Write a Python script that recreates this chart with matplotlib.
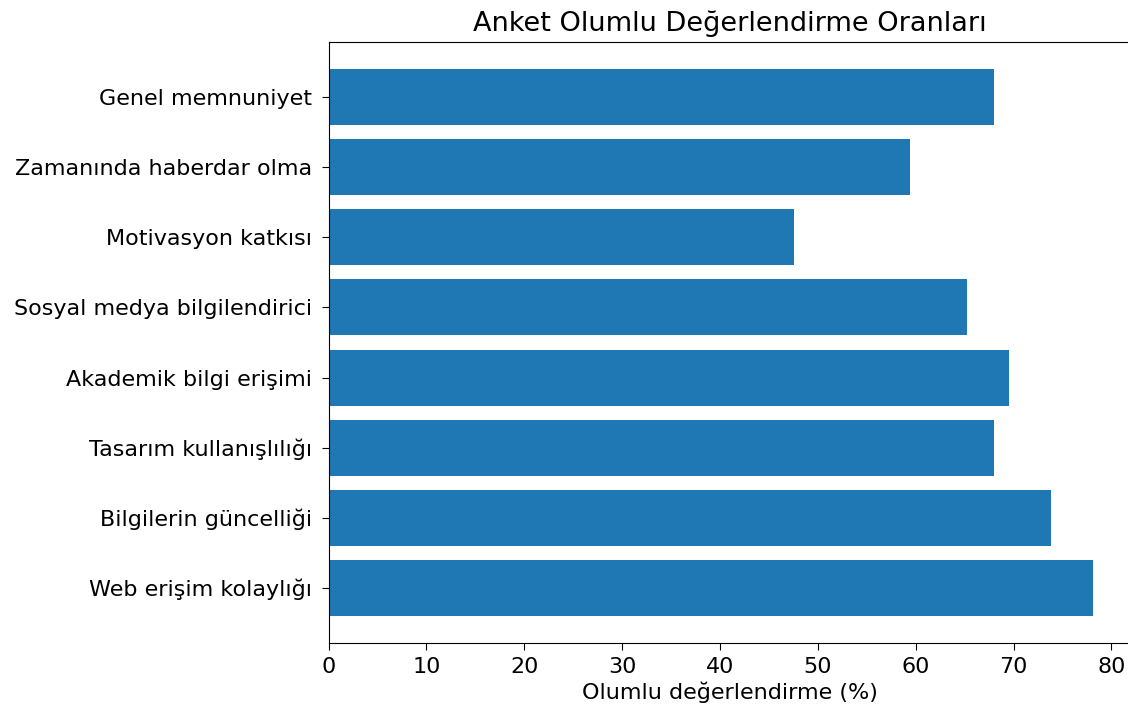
import matplotlib.pyplot as plt

categories = ["Web erişim kolaylığı", "Bilgilerin güncelliği", "Tasarım kullanışlılığı",
              "Akademik bilgi erişimi", "Sosyal medya bilgilendirici", "Motivasyon katkısı",
              "Zamanında haberdar olma", "Genel memnuniyet"]
values = [78.1, 73.8, 68.0, 69.5, 65.2, 47.6, 59.4, 68.0]

plt.rcParams['font.size'] = 16
plt.rcParams['xtick.major.size'] = 5
plt.rcParams['ytick.major.size'] = 5
plt.rcParams['xtick.major.pad'] = 5
plt.rcParams['ytick.major.pad'] = 7

fig = plt.figure(figsize=(11.28, 7.15), dpi=100)
ax = fig.add_axes([328.5 / 1128, 1 - 643 / 715, (1131 - 328.5) / 1128, (643 - 42) / 715])
ax.barh(categories, values, color='#1f77b4')
ax.set_title('Anket Olumlu Değerlendirme Oranları', fontsize=19.5, pad=8)
ax.set_xlabel('Olumlu değerlendirme (%)', labelpad=3)

fig.savefig('out.png', dpi=100)
